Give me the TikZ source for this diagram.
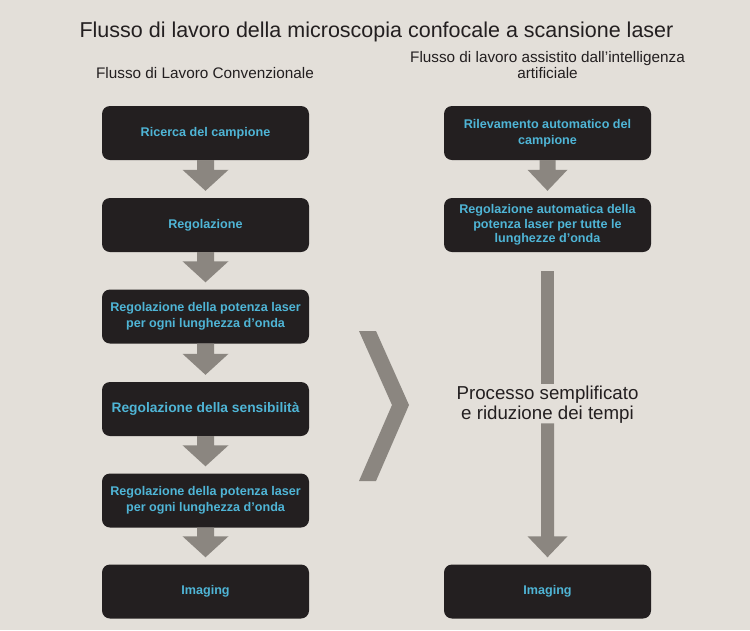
\documentclass[tikz,border=0pt]{standalone}
\usepackage{fontspec}
\setmainfont{Liberation Sans}
\usetikzlibrary{calc, positioning}

\definecolor{bgBeige}{HTML}{E3DFD9}
\definecolor{boxBlack}{HTML}{231F20}
\definecolor{textCyan}{HTML}{4FB5D6}
\definecolor{arrowGray}{HTML}{8B8680}
\definecolor{inkDark}{HTML}{231F20}

\begin{document}
\begin{tikzpicture}[x=1pt, y=-1pt,
		stepbox/.style={fill=boxBlack, rounded corners=8pt, minimum width=207pt, minimum height=54pt,
			inner sep=0pt, align=center, text=textCyan, font=\bfseries\fontsize{12.6}{16.5}\selectfont},
		headtext/.style={text=inkDark, align=center, font=\fontsize{15.3}{16}\selectfont, anchor=base}]
			\def\xConv{205.5};
			\def\xAi{547.5};

			\newcommand{\drawBlockArrow}[4]
			{
				\fill [arrowGray] ($ (#1.south) + (-#3,0) $) -- ($ (#2.north) + (-#3,-28) $) -- ($ (#2.north) + (-#4,-28) $)
					-- ($ (#2.north) + (0,-7) $) -- ($ (#2.north) + (#4,-28) $) -- ($ (#2.north) + (#3,-28) $)
					-- ($ (#1.south) + (#3,0) $) -- cycle
			}

			% background and page size
			\fill [bgBeige] (0,0) rectangle (750,630);
			\useasboundingbox (0,0) rectangle (750,630);

			% titles
			\node [headtext, font=\fontsize{21.5}{24}\selectfont] (title) at (376.5,37.5) {Flusso di lavoro della microscopia confocale a scansione laser};
			\node [headtext] (convHead) at (205,78) {Flusso di Lavoro Convenzionale};
			\node [headtext] (aiHead) at (\xAi,78) {Flusso di lavoro assistito dall’intelligenza\\artificiale};

			% conventional workflow
			\node [stepbox] (conv1) at (\xConv,133) {Ricerca del campione};
			\node [stepbox] (conv2) at (\xConv,225) {Regolazione};
			\node [stepbox] (conv3) at (\xConv,316.5) {Regolazione della potenza laser\\per ogni lunghezza d’onda};
			\node [stepbox, font=\bfseries\fontsize{13.8}{16}\selectfont] (conv4) at (\xConv,409) {Regolazione della sensibilità};
			\node [stepbox] (conv5) at (\xConv,500.5) {Regolazione della potenza laser\\per ogni lunghezza d’onda};
			\node [stepbox] (conv6) at (\xConv,591.5) {Imaging};

			\foreach \i [evaluate=\i as \j using int(\i+1)] in {1,...,5}
			{
				\drawBlockArrow{conv\i}{conv\j}{8.5}{23};
			}

			% AI workflow
			\node [stepbox, font=\bfseries\fontsize{12.6}{15.5}\selectfont] (ai1) at (\xAi,133) {Rilevamento automatico del\\campione};
			\node [stepbox, font=\bfseries\fontsize{12.6}{14.5}\selectfont] (ai2) at (\xAi,225) {Regolazione automatica della\\potenza laser per tutte le\\lunghezze d’onda};
			\node [stepbox] (ai3) at (\xAi,591.5) {Imaging};

			\drawBlockArrow{ai1}{ai2}{8}{20};

			\node [text=inkDark, align=center, inner sep=0pt, font=\fontsize{18.7}{20}\selectfont] (simplified) at (\xAi,404.5) {Processo semplificato\\e riduzione dei tempi};

			\begin{scope}[arrowGray]
				\fill ($ (ai2.south) + (-6.5,19) $) rectangle ($ (simplified.north) + (6.5,-2) $);
				\fill ($ (simplified.south) + (-6.5,0) $) -- ($ (ai3.north) + (-6.5,-28) $) -- ($ (ai3.north) + (-20,-28) $)
					-- ($ (ai3.north) + (0,-7) $) -- ($ (ai3.north) + (20,-28) $) -- ($ (ai3.north) + (6.5,-28) $)
					-- ($ (simplified.south) + (6.5,0) $) -- cycle;
			\end{scope}

			% chevron between the two columns
			\fill [arrowGray] (359,331) -- (376,331) -- (409,405) -- (376,481) -- (359,481) -- (392,405) -- cycle;
		\end{tikzpicture}
\end{document}
